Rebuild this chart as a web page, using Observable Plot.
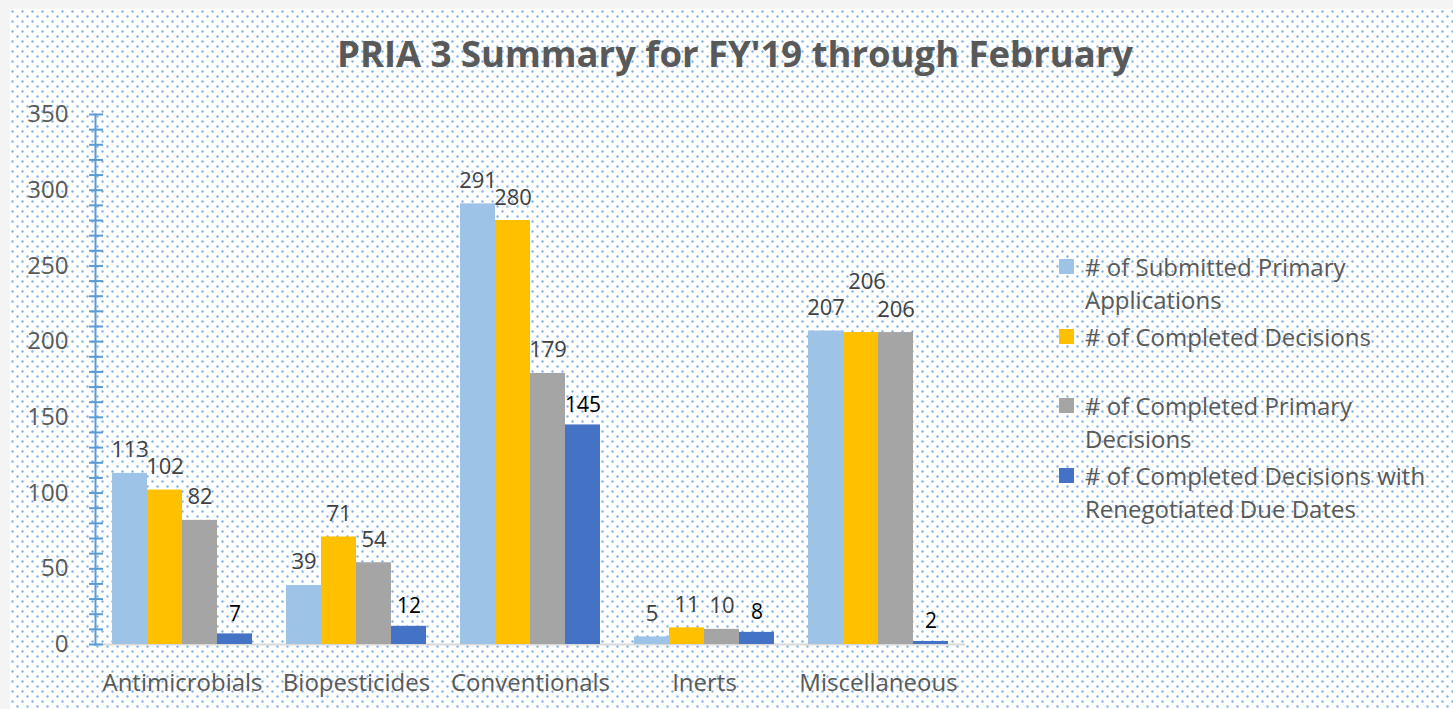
<!DOCTYPE html>
<html>
<head>
<meta charset="utf-8">
<script src="https://cdn.jsdelivr.net/npm/d3@7"></script>
<script src="https://cdn.jsdelivr.net/npm/@observablehq/plot@0.6"></script>
<style>
  html, body { margin: 0; padding: 0; background: #f4f4f4; }
  #wrap { position: relative; width: 1453px; height: 709px; overflow: hidden; font-family: "Open Sans", sans-serif; }
  #bg { position: absolute; left: 10px; top: 9px; right: 0; bottom: 0; background-color: #fff;
        background-image: radial-gradient(circle at 2.5px 2.5px, #86b5e4 0, #86b5e4 0.8px, rgba(134,181,228,0) 1.6px),
                          radial-gradient(circle at 7.5px 7.5px, #86b5e4 0, #86b5e4 0.8px, rgba(134,181,228,0) 1.6px);
        background-size: 10px 10px; }
  #title { position: absolute; left: 0; top: 0; }
  #chart { position: absolute; left: 0; top: 0; }
  #legend { position: absolute; left: 1059px; top: 250px; color: #595959; font-size: 24px; }
  .entry { position: relative; height: 69.5px; }
  .swatch { position: absolute; left: 0; top: 9px; width: 15px; height: 15px; }
  .label { position: absolute; left: 26px; top: 0; line-height: 33px; white-space: nowrap; }
</style>
</head>
<body>
<div id="wrap">
  <div id="bg"></div>
  <svg id="title" width="1453" height="100"></svg>
  <div id="chart"></div>
  <div id="legend"></div>
</div>
<script>
const titleText = "PRIA 3 Summary for FY'19 through February";
const categories = ["Antimicrobials", "Biopesticides", "Conventionals", "Inerts", "Miscellaneous"];
const seriesNames = [
  "# of Submitted Primary Applications",
  "# of Completed Decisions",
  "# of Completed Primary Decisions",
  "# of Completed Decisions with Renegotiated Due Dates"
];
const legendLines = [
  ["# of Submitted Primary", "Applications"],
  ["# of Completed Decisions"],
  ["# of Completed Primary", "Decisions"],
  ["# of Completed Decisions with", "Renegotiated Due Dates"]
];
const seriesColors = ["#9DC3E6", "#FFC000", "#A5A5A5", "#4472C4"];
const submitted = [113, 39, 291, 5, 207];
const completed = [102, 71, 280, 11, 206];
const completedPrimary = [82, 54, 179, 10, 206];
const renegotiated = [7, 12, 145, 8, 2];
const yTicks = [0, 50, 100, 150, 200, 250, 300, 350];
const yMinorTicks = d3.range(0, 351, 10);

const seriesValues = [submitted, completed, completedPrimary, renegotiated];
const data = [];
categories.forEach((c, i) => {
  seriesNames.forEach((s, j) => {
    data.push({category: c, series: s, si: j, value: seriesValues[j][i]});
  });
});

// Title
const tsvg = d3.select("#title");
tsvg.append("text")
  .attr("x", 337).attr("y", 67)
  .attr("font-family", "Open Sans").attr("font-weight", 700).attr("font-size", 35)
  .attr("fill", "#595959")
  .attr("textLength", 796).attr("lengthAdjust", "spacingAndGlyphs")
  .text(titleText);

const axisBlue = "#5B9BD5";
const isMiscYellow = d => d.category === "Miscellaneous" && d.si === 1;

const chart = Plot.plot({
  width: 1453,
  height: 709,
  marginLeft: 95,
  marginRight: 488,
  marginTop: 114,
  marginBottom: 65,
  style: {background: "transparent", fontFamily: "Open Sans", color: "#595959", overflow: "visible"},
  fx: {domain: categories, padding: 0, axis: null},
  x: {domain: seriesNames, paddingInner: 0, paddingOuter: 0.4167, axis: null},
  y: {domain: [0, 350], axis: null},
  color: {domain: seriesNames, range: seriesColors},
  marks: [
    Plot.ruleY([0], {stroke: "#D9D9D9", strokeWidth: 2}),
    Plot.barY(data, {fx: "category", x: "series", y: "value", fill: "series"}),
    Plot.text(data, {filter: d => d.si < 3 && !isMiscYellow(d), fx: "category", x: "series", y: "value", text: d => String(d.value),
      lineAnchor: "bottom", dy: -16, fontSize: 22, fill: "#404040"}),
    Plot.text(data, {filter: isMiscYellow, fx: "category", x: "series", y: "value", text: d => String(d.value),
      lineAnchor: "bottom", dy: -44, dx: 6, fontSize: 22, fill: "#404040"}),
    Plot.text(data, {filter: d => d.si === 3, fx: "category", x: "series", y: "value", text: d => String(d.value),
      lineAnchor: "bottom", dy: -13, fontSize: 21, fill: "#000000"}),
    Plot.frame({anchor: "left", stroke: axisBlue, strokeWidth: 2, facetAnchor: "left"}),
    Plot.axisY(yMinorTicks, {text: null, tickSize: 14, dx: 8, stroke: axisBlue, strokeWidth: 2, facetAnchor: "left", label: null}),
    Plot.axisY(yTicks, {tickSize: 0, tickPadding: 27, fontSize: 24, fill: "#595959", facetAnchor: "left", label: null}),
    Plot.axisFx({anchor: "bottom", tickSize: 0, tickPadding: 29, fontSize: 24, fill: "#595959", label: null})
  ]
});
document.getElementById("chart").appendChild(chart);

// Legend
const legend = d3.select("#legend");
legendLines.forEach((lines, i) => {
  const e = legend.append("div").attr("class", "entry");
  e.append("div").attr("class", "swatch").style("background", seriesColors[i]);
  e.append("div").attr("class", "label").html(lines.join("<br>"));
});
</script>
</body>
</html>
